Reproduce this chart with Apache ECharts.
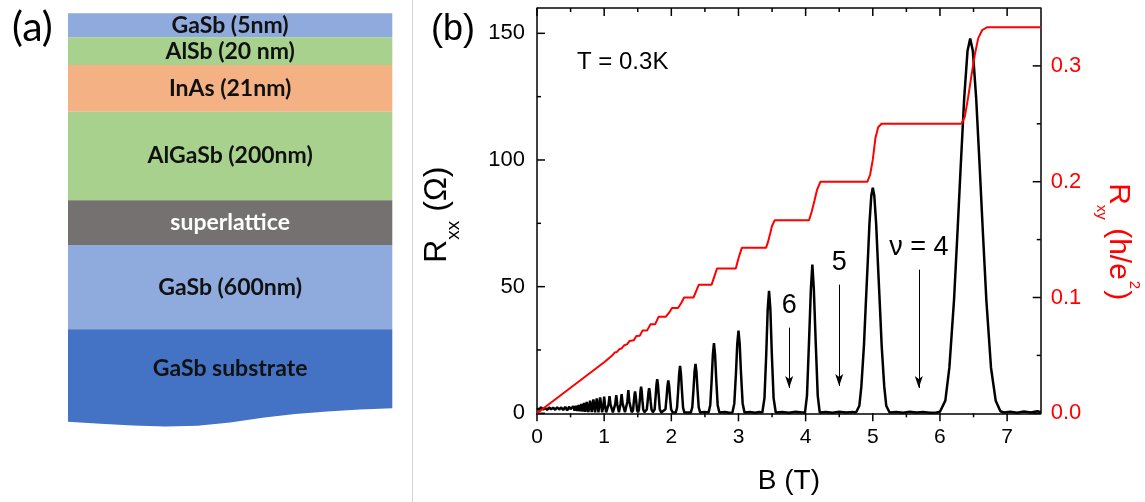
<!DOCTYPE html>
<html>
<head>
<meta charset="utf-8">
<script src="https://cdn.jsdelivr.net/npm/echarts@6/dist/echarts.min.js"></script>
<style>
  html, body { margin: 0; padding: 0; background: #fff; }
  #chart { width: 1145px; height: 502px; }
</style>
</head>
<body>
<div id="chart"></div>
<script>
// ---- (a) layer stack, top to bottom ----
const layerNames = ['GaSb (5nm)', 'AlSb (20 nm)', 'InAs (21nm)', 'AlGaSb (200nm)', 'superlattice', 'GaSb (600nm)', 'GaSb substrate']
// drawn thickness of each layer (drawing units)
const layerThickness = [24, 27.7, 46.7, 88.6, 44.7, 84.3, 79]
// wavy bottom of the substrate: [fraction of width, depth below substrate top]
const substrateEdge = [[0, 92.4], [0.1, 94.5], [0.2, 96.3], [0.3, 97.2], [0.4, 96.4], [0.5, 93.2],
  [0.6, 88.5], [0.7, 84.8], [0.8, 82.2], [0.9, 80.2], [1, 79]]

// ---- (b) magnetotransport, T = 0.3 K ----
const bTicks = [0, 1, 2, 3, 4, 5, 6, 7]
const bMinorTicks = [0.5, 1.5, 2.5, 3.5, 4.5, 5.5, 6.5]
const rxxTicks = [0, 50, 100, 150]
const rxxMinorTicks = [25, 75, 125]
const rxyTicks = [0, 0.1, 0.2, 0.3]
const rxyMinorTicks = [0.05, 0.15, 0.25]
const bMax = 7.5
const rxxMax = 160
const rxyMax = 0.35

// B (T), Rxx (ohm)
const rxxData = [
  [0, 2.0], [0.03, 1.4], [0.06, 2.4], [0.09, 1.5], [0.12, 2.2], [0.15, 1.3], [0.18, 2.3], [0.21, 1.6],
  [0.24, 2.2], [0.27, 1.4], [0.30, 2.4], [0.33, 1.5], [0.36, 2.3], [0.39, 1.3], [0.42, 2.5], [0.45, 1.2],
  [0.48, 2.6], [0.50, 1.6], [0.52, 1.1], [0.54, 2.8], [0.56, 1.0], [0.58, 3.0], [0.60, 0.9], [0.62, 3.3],
  [0.64, 0.8], [0.66, 3.7], [0.68, 0.7], [0.70, 4.1], [0.72, 0.6], [0.74, 4.5], [0.765, 0.5], [0.79, 5.0],
  [0.815, 0.5], [0.84, 5.5], [0.865, 0.4], [0.89, 5.9], [0.915, 0.4], [0.94, 6.3], [0.97, 0.4],
  [0.99, 3.3], [1.0, 6.6], [1.012, 3.3], [1.03, 0.4],
  [1.065, 3.4], [1.08, 6.8], [1.095, 3.4], [1.13, 0.4],
  [1.165, 3.6], [1.18, 7.2], [1.195, 3.6], [1.22, 0.4],
  [1.245, 3.8], [1.26, 7.6], [1.275, 3.8], [1.31, 0.4],
  [1.345, 4.6], [1.36, 9.2], [1.375, 4.6], [1.41, 0.4],
  [1.43, 1.2], [1.44, 4.1], [1.452, 7.2], [1.46, 8.6], [1.468, 7.2], [1.48, 4.1], [1.49, 1.2], [1.505, 0.4],
  [1.518, 1.5], [1.53, 5], [1.541, 8.8], [1.55, 10.5], [1.559, 8.8], [1.57, 5], [1.582, 1.5], [1.60, 0.4],
  [1.635, 1.5], [1.648, 4.8], [1.66, 8.3], [1.67, 9.9], [1.68, 8.3], [1.692, 4.8], [1.705, 1.5], [1.725, 0.4],
  [1.752, 1.6], [1.766, 6.5], [1.779, 11.3], [1.79, 13.5], [1.801, 11.3], [1.814, 6.5], [1.828, 1.6], [1.85, 0.3],
  [1.913, 1.6], [1.929, 6.2], [1.943, 10.9], [1.955, 13], [1.967, 10.9], [1.981, 6.2], [1.997, 1.6], [2.02, 0.3],
  [2.065, 0.3], [2.085, 2.2], [2.102, 9], [2.117, 15.7], [2.13, 18.7], [2.143, 15.7], [2.158, 9], [2.175, 2.2], [2.195, 0.3],
  [2.29, 0.3], [2.312, 2.3], [2.33, 9.4], [2.346, 16.4], [2.36, 19.5], [2.374, 16.4], [2.39, 9.4], [2.408, 2.3], [2.43, 0.3],
  [2.49, 0.5],
  [2.555, 0.3], [2.58, 3.3], [2.601, 13.3], [2.619, 23.3], [2.635, 27.7], [2.651, 23.3], [2.669, 13.3], [2.69, 3.3], [2.715, 0.3],
  [2.8, 0.5], [2.86, 0.2],
  [2.91, 0.3], [2.938, 3.9], [2.962, 15.6], [2.982, 27.4], [3.0, 32.6], [3.018, 27.4], [3.038, 15.6], [3.062, 3.9], [3.09, 0.3],
  [3.17, 0.5], [3.25, 0.2], [3.31, 0.5],
  [3.355, 0.3], [3.387, 6], [3.413, 23], [3.435, 41], [3.455, 48.3], [3.475, 41], [3.497, 23], [3.523, 6], [3.555, 0.3],
  [3.65, 0.5], [3.75, 0.2], [3.85, 0.6], [3.95, 0.3],
  [3.99, 0.3], [4.02, 7], [4.05, 28], [4.078, 49], [4.10, 58.7], [4.122, 49], [4.15, 28], [4.18, 7], [4.21, 0.3],
  [4.3, 0.5], [4.4, 0.2], [4.5, 0.6], [4.6, 0.3], [4.7, 0.5],
  [4.75, 0.3], [4.80, 3], [4.83, 10.7], [4.868, 26.7], [4.895, 42.7], [4.923, 58.7], [4.95, 74.8], [4.978, 86], [5.0, 89],
  [5.022, 86], [5.05, 74.8], [5.077, 58.7], [5.105, 42.7], [5.132, 26.7], [5.17, 10.7], [5.2, 3], [5.25, 0.3],
  [5.35, 0.5], [5.45, 0.2], [5.55, 0.6], [5.65, 0.3], [5.75, 0.5], [5.85, 0.2],
  [5.95, 0.3], [6.0, 0.6], [6.08, 5], [6.14, 18], [6.21, 45], [6.26, 71], [6.31, 98], [6.36, 124], [6.41, 143], [6.45, 148],
  [6.49, 143], [6.54, 124], [6.59, 98], [6.64, 71], [6.69, 45], [6.76, 18], [6.83, 5], [6.9, 0.8], [6.95, 0.3],
  [7.05, 0.6], [7.15, 0.2], [7.25, 0.7], [7.35, 0.3], [7.45, 0.8], [7.5, 0.4]
]

// B (T), Rxy (h/e^2)
const rxyData = [
  [0, 0], [0.5, 0.022], [1.0, 0.0441], [1.12, 0.0500], [1.16, 0.0526], [1.19, 0.0530], [1.23, 0.0556],
  [1.26, 0.0560], [1.30, 0.0588], [1.34, 0.0595], [1.38, 0.0625], [1.44, 0.0630], [1.48, 0.0667],
  [1.53, 0.0670], [1.57, 0.0714], [1.64, 0.0716], [1.69, 0.0769], [1.76, 0.0770], [1.81, 0.0833],
  [1.92, 0.0834], [1.97, 0.0871], [2.01, 0.0909], [2.10, 0.0909], [2.15, 0.0955], [2.19, 0.1000],
  [2.33, 0.1000], [2.37, 0.1055], [2.41, 0.1111], [2.60, 0.1111], [2.64, 0.1180], [2.68, 0.1250],
  [2.96, 0.1250], [3.00, 0.1339], [3.05, 0.1429], [3.41, 0.1429], [3.44, 0.1480], [3.47, 0.1548],
  [3.50, 0.1620], [3.54, 0.1667], [4.05, 0.1667], [4.09, 0.1740], [4.13, 0.1833], [4.17, 0.1930],
  [4.22, 0.2000], [4.92, 0.2000], [4.96, 0.2060], [5.00, 0.2190], [5.04, 0.2380], [5.08, 0.2470],
  [5.13, 0.2500], [6.32, 0.2500], [6.37, 0.2560], [6.42, 0.2730], [6.47, 0.2920], [6.52, 0.3100],
  [6.57, 0.3240], [6.63, 0.3310], [6.70, 0.3333], [7.5, 0.3333]
]

// filling factor arrows: label, B, Rxx at arrow tail, Rxx at arrow head
const fillingArrows = [
  { text: '6', b: 3.755, from: 33.8, to: 10 },
  { text: '5', b: 4.5, from: 50.8, to: 10.8 },
  { text: 'ν = 4', b: 5.685, from: 56.7, to: 10 }
]

const layerColors = ['#8faadc', '#a9d18e', '#f4b183', '#a9d18e', '#767171', '#8faadc', '#4472c4']
const layerTextColors = ['#111', '#111', '#111', '#111', '#fff', '#111', '#111']

const layerTops = []
let depth = 0
layerThickness.forEach(t => { layerTops.push(depth); depth += t })

const FONT = 'Liberation Sans'
const MAJOR = 8
const MINOR = 4
const chart = echarts.init(document.getElementById('chart'))

const axisLine = { show: true, lineStyle: { color: '#000', width: 1.5 } }
const tickStyle = { stroke: '#000', lineWidth: 1.5 }
// R with subscript / superscript, all tokens top-aligned and shifted with top padding
const rxxRich = {
  m: { fontSize: 32, lineHeight: 48, verticalAlign: 'top', padding: [4, 0, 0, 0], fontFamily: FONT },
  s: { fontSize: 19, lineHeight: 48, verticalAlign: 'top', padding: [27, 0, 0, 0], fontFamily: FONT }
}
const rxyRich = {
  m: { fontSize: 30, lineHeight: 48, verticalAlign: 'top', padding: [8, 0, 0, 0], fontFamily: FONT },
  s: { fontSize: 15, lineHeight: 48, verticalAlign: 'top', padding: [33, 0, 0, 0], fontFamily: FONT },
  p: { fontSize: 15, lineHeight: 48, verticalAlign: 'top', padding: [0, 1, 0, 1], fontFamily: FONT }
}

const seg = (x1, y1, x2, y2) => ({ type: 'line', shape: { x1, y1, x2, y2 }, style: tickStyle })

// frame ticks of panel (b): bottom ticks point out, top / left ticks point in
const frameTicks = (params, api) => {
  const children = []
  const yBottom = api.coord([0, 0])[1]
  const yTop = api.coord([0, rxxMax])[1]
  const xLeft = api.coord([0, 0])[0]
  const xRight = api.coord([bMax, 0])[0]
  children.push(seg(xLeft, yTop, xRight, yTop))
  const xTick = (b, len) => {
    const x = api.coord([b, 0])[0]
    children.push(seg(x, yBottom, x, yBottom + len))
    children.push(seg(x, yTop, x, yTop + len))
  }
  bTicks.forEach(b => xTick(b, MAJOR))
  bMinorTicks.forEach(b => xTick(b, MINOR))
  const yTick = (v, len) => {
    const y = api.coord([0, v])[1]
    children.push(seg(xLeft, y, xLeft + len, y))
  }
  rxxTicks.forEach(v => yTick(v, MAJOR))
  rxxMinorTicks.forEach(v => yTick(v, MINOR))
  return { type: 'group', children }
}

// right axis ticks point in
const rightTicks = (params, api) => {
  const children = []
  const xRight = api.coord([bMax, 0])[0]
  const yTick = (v, len) => {
    const y = api.coord([bMax, v])[1]
    children.push(seg(xRight, y, xRight - len, y))
  }
  rxyTicks.forEach(v => yTick(v, MAJOR))
  rxyMinorTicks.forEach(v => yTick(v, MINOR))
  return { type: 'group', children }
}

chart.setOption({
  animation: false,
  textStyle: { fontFamily: FONT },
  grid: [
    { left: 68, top: 13.3, width: 324.3, height: 414 },
    { left: 537, top: 8, width: 503.7, height: 405.3 }
  ],
  xAxis: [
    { gridIndex: 0, type: 'value', min: 0, max: 1, show: false },
    {
      gridIndex: 1,
      type: 'value',
      min: bTicks[0],
      max: bMax,
      interval: bTicks[1] - bTicks[0],
      name: 'B (T)',
      nameLocation: 'middle',
      nameGap: 54,
      nameTextStyle: { fontSize: 28, color: '#000', fontFamily: FONT },
      axisLine,
      axisTick: { show: false },
      minorTick: { show: false },
      axisLabel: { fontSize: 21, color: '#000', margin: 13, showMaxLabel: false, fontFamily: FONT },
      splitLine: { show: false }
    }
  ],
  yAxis: [
    { gridIndex: 0, type: 'value', min: 0, max: 414, inverse: true, show: false },
    {
      gridIndex: 1,
      type: 'value',
      position: 'left',
      min: rxxTicks[0],
      max: rxxMax,
      interval: rxxTicks[1] - rxxTicks[0],
      name: '{m|R}{s|xx}{m| (Ω)}',
      nameLocation: 'middle',
      nameRotate: 90,
      nameGap: 72,
      nameTextStyle: { color: '#000', fontFamily: FONT, padding: [0, 8, 0, 0], rich: rxxRich },
      axisLine,
      axisTick: { show: false },
      minorTick: { show: false },
      axisLabel: { fontSize: 22, color: '#000', margin: 12, showMaxLabel: false, fontFamily: FONT },
      splitLine: { show: false }
    },
    {
      gridIndex: 1,
      type: 'value',
      position: 'right',
      min: rxyTicks[0],
      max: rxyMax,
      interval: rxyTicks[1] - rxyTicks[0],
      name: '{m|R}{s|xy}{m| (h/e}{p|2}{m|)}',
      nameLocation: 'middle',
      nameRotate: -90,
      nameGap: 53,
      nameTextStyle: { color: '#ff0000', fontFamily: FONT, padding: [0, 0, 0, 62], rich: rxyRich },
      axisLine,
      axisTick: { show: false },
      minorTick: { show: false },
      axisLabel: {
        fontSize: 22, color: '#ff0000', margin: 10, showMaxLabel: false, fontFamily: FONT,
        formatter: v => v.toFixed(1)
      },
      splitLine: { show: false }
    }
  ],
  graphic: [
    { type: 'line', shape: { x1: 412.5, y1: 0, x2: 412.5, y2: 502 }, style: { stroke: '#d4d4d4', lineWidth: 1 } },
    { type: 'text', left: 12, top: 7, style: { text: '(a)', fontSize: 41, fontFamily: 'Lato', fill: '#000' } },
    { type: 'text', left: 431, top: 12, style: { text: '(b)', fontSize: 36, fontFamily: FONT, fill: '#000' } },
    { type: 'text', left: 577, top: 50, style: { text: 'T = 0.3K', fontSize: 24, fontFamily: FONT, fill: '#000' } }
  ],
  series: [
    {
      type: 'custom',
      xAxisIndex: 0,
      yAxisIndex: 0,
      silent: true,
      data: layerNames.map((name, i) => ({ name, value: [0.5, layerTops[i]] })),
      renderItem: (params, api) => {
        const i = params.dataIndex
        const top = layerTops[i]
        const bottom = top + layerThickness[i]
        const tl = api.coord([0, top])
        const br = api.coord([1, bottom])
        let block
        if (i === layerNames.length - 1) {
          const pts = [api.coord([0, top]), api.coord([1, top])]
          for (let k = substrateEdge.length - 1; k >= 0; k--) {
            pts.push(api.coord([substrateEdge[k][0], top + substrateEdge[k][1]]))
          }
          block = { type: 'polygon', shape: { points: pts }, style: { fill: layerColors[i] } }
        } else {
          block = {
            type: 'rect',
            shape: { x: tl[0], y: tl[1], width: br[0] - tl[0], height: br[1] - tl[1] },
            style: { fill: layerColors[i] }
          }
        }
        return {
          type: 'group',
          children: [block, {
            type: 'text',
            style: {
              text: layerNames[i],
              x: (tl[0] + br[0]) / 2,
              y: (tl[1] + br[1]) / 2,
              align: 'center',
              verticalAlign: 'middle',
              fill: layerTextColors[i],
              fontSize: 23,
              fontWeight: 'bold',
              fontFamily: 'Lato'
            }
          }]
        }
      }
    },
    {
      type: 'custom',
      xAxisIndex: 1,
      yAxisIndex: 1,
      silent: true,
      clip: false,
      data: [[0, 0]],
      renderItem: frameTicks
    },
    {
      type: 'custom',
      xAxisIndex: 1,
      yAxisIndex: 2,
      silent: true,
      clip: false,
      data: [[bMax, 0]],
      renderItem: rightTicks
    },
    {
      name: 'Rxx',
      type: 'line',
      xAxisIndex: 1,
      yAxisIndex: 1,
      data: rxxData,
      symbol: 'none',
      lineStyle: { color: '#000', width: 2.5 },
      markLine: {
        silent: true,
        symbol: ['none', 'arrow'],
        symbolSize: [6, 12],
        lineStyle: { color: '#000', width: 1, type: 'solid' },
        label: { position: 'start', distance: 9, color: '#000', fontSize: 27, fontFamily: FONT },
        data: fillingArrows.map(a => [
          { coord: [a.b, a.from], label: { formatter: a.text } },
          { coord: [a.b, a.to] }
        ])
      }
    },
    {
      name: 'Rxy',
      type: 'line',
      xAxisIndex: 1,
      yAxisIndex: 2,
      data: rxyData,
      symbol: 'none',
      lineStyle: { color: '#ff0000', width: 2 }
    }
  ]
})
</script>
</body>
</html>
